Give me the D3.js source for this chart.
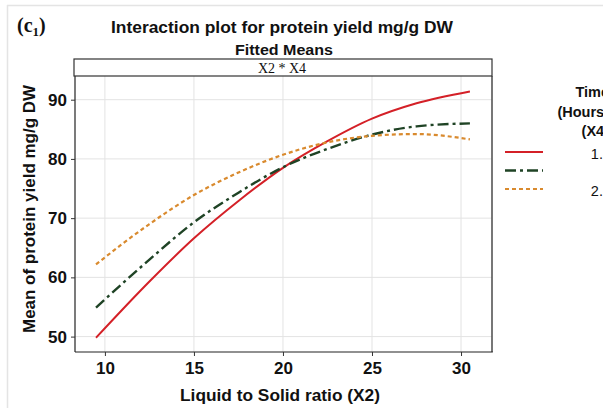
<!DOCTYPE html>
<html>
<head>
<meta charset="utf-8">
<script src="https://cdn.jsdelivr.net/npm/d3@7"></script>
<style>
  html, body { margin: 0; padding: 0; background: #fff; }
  svg { display: block; }
</style>
</head>
<body>
<svg id="chart" width="603" height="408" font-family="Liberation Sans, Arial, sans-serif"></svg>
<script>
// Fitted means of protein yield (mg/g DW) against liquid-to-solid ratio, one series per time level
const ratio = [9.5, 12.5, 15, 17.5, 20, 22.5, 25, 27.5, 30.5];
const yieldT15 = [49.8, 59.3, 66.6, 72.9, 78.5, 83.0, 86.8, 89.4, 91.4];
const yieldT20 = [54.9, 63.0, 69.3, 74.3, 78.6, 81.7, 84.1, 85.5, 86.0];
const yieldT25 = [62.2, 69.0, 73.9, 77.7, 80.7, 82.8, 83.9, 84.2, 83.3];
const seriesLabels = ["1.5", "2", "2.5"];
const xTicks = [10, 15, 20, 25, 30];
const yTicks = [50, 60, 70, 80, 90];

const SANS = "Liberation Sans, Arial, sans-serif";
const SERIF = "Liberation Serif, Times New Roman, serif";

const series = [
  { label: seriesLabels[0], values: yieldT15, color: "#d42027", dash: null, width: 2 },
  { label: seriesLabels[1], values: yieldT20, color: "#1f4325", dash: "11,4,3,4", width: 2.4 },
  { label: seriesLabels[2], values: yieldT25, color: "#d98a2e", dash: "4,3", width: 2.2 }
];

const svg = d3.select("#chart");

// light frame around the figure
svg.append("line").attr("x1", 7).attr("x2", 603).attr("y1", 5.5).attr("y2", 5.5)
  .attr("stroke", "#e4e4e4").attr("stroke-width", 1.5);
svg.append("line").attr("x1", 7.5).attr("x2", 7.5).attr("y1", 5).attr("y2", 408)
  .attr("stroke", "#e4e4e4").attr("stroke-width", 1.5);

const panel = { left: 75, right: 492, top: 76, bottom: 352 };

const x = d3.scaleLinear().domain([8.32, 31.74]).range([panel.left, panel.right]);
const y = d3.scaleLinear().domain([47.4, 94.0]).range([panel.bottom, panel.top]);

// grid
const grid = svg.append("g");
grid.selectAll(".gx").data(xTicks).join("line")
  .attr("x1", d => x(d)).attr("x2", d => x(d))
  .attr("y1", panel.top).attr("y2", panel.bottom)
  .attr("stroke", "#e3e3e3").attr("stroke-width", 1);
grid.selectAll(".gy").data(yTicks).join("line")
  .attr("x1", panel.left).attr("x2", panel.right)
  .attr("y1", d => y(d)).attr("y2", d => y(d))
  .attr("stroke", "#e3e3e3").attr("stroke-width", 1);

// series lines
const line = d3.line()
  .x((d, i) => x(ratio[i]))
  .y(d => y(d))
  .curve(d3.curveMonotoneX);

svg.append("g").selectAll("path").data(series).join("path")
  .attr("d", d => line(d.values))
  .attr("fill", "none")
  .attr("stroke", d => d.color)
  .attr("stroke-width", d => d.width)
  .attr("stroke-dasharray", d => d.dash);

// panel border
svg.append("line").attr("x1", panel.right).attr("x2", panel.right)
  .attr("y1", panel.top).attr("y2", panel.bottom)
  .attr("stroke", "#555").attr("stroke-width", 1.6);
svg.append("line").attr("x1", panel.left).attr("x2", panel.left)
  .attr("y1", panel.top).attr("y2", panel.bottom)
  .attr("stroke", "#222").attr("stroke-width", 1.2);
svg.append("line").attr("x1", panel.left).attr("x2", panel.right + 0.8)
  .attr("y1", panel.bottom).attr("y2", panel.bottom)
  .attr("stroke", "#222").attr("stroke-width", 1.2);

// axes
const xAxis = d3.axisBottom(x).tickValues(xTicks).tickSize(4).tickPadding(6);
const gx = svg.append("g").attr("transform", `translate(0,${panel.bottom})`).call(xAxis);
gx.select(".domain").remove();
gx.selectAll(".tick line").attr("stroke", "#333");
gx.selectAll(".tick text").attr("font-size", 17).attr("font-weight", "bold")
  .attr("fill", "#111").attr("font-family", SANS);

const yAxis = d3.axisLeft(y).tickValues(yTicks).tickSize(4).tickPadding(4);
const gy = svg.append("g").attr("transform", `translate(${panel.left},0)`).call(yAxis);
gy.select(".domain").remove();
gy.selectAll(".tick line").attr("stroke", "#333");
gy.selectAll(".tick text").attr("font-size", 17).attr("font-weight", "bold")
  .attr("fill", "#111").attr("font-family", SANS);

// strip
svg.append("rect").attr("x", panel.left - 1).attr("y", 59)
  .attr("width", panel.right - panel.left + 1).attr("height", panel.top - 59)
  .attr("fill", "#fff").attr("stroke", "#333").attr("stroke-width", 1.2);
svg.append("text").attr("x", 282).attr("y", 73).attr("text-anchor", "middle")
  .attr("font-family", SERIF)
  .attr("font-size", 14).attr("fill", "#111")
  .text("X2 * X4");

// titles
svg.append("text").attr("x", 284).attr("y", 55).attr("text-anchor", "middle")
  .attr("font-size", 14).attr("font-weight", "bold").attr("fill", "#111")
  .attr("textLength", 98).attr("lengthAdjust", "spacingAndGlyphs")
  .text("Fitted Means");
svg.append("text").attr("x", 282).attr("y", 33).attr("text-anchor", "middle")
  .attr("font-size", 16.5).attr("font-weight", "bold").attr("fill", "#111")
  .attr("textLength", 342).attr("lengthAdjust", "spacingAndGlyphs")
  .text("Interaction plot for protein yield mg/g DW");

const tag = svg.append("text").attr("x", 17).attr("y", 32)
  .attr("font-family", SERIF)
  .attr("font-size", 20).attr("font-weight", "bold").attr("fill", "#111");
tag.append("tspan").text("(c");
tag.append("tspan").attr("font-size", 13).attr("dy", 4).text("1");
tag.append("tspan").attr("dy", -4).text(")");

svg.append("text").attr("x", 280).attr("y", 401).attr("text-anchor", "middle")
  .attr("font-size", 16.5).attr("font-weight", "bold").attr("fill", "#111")
  .attr("textLength", 200).attr("lengthAdjust", "spacingAndGlyphs")
  .text("Liquid to Solid ratio (X2)");
svg.append("text")
  .attr("transform", `translate(35,209) rotate(-90)`)
  .attr("text-anchor", "middle")
  .attr("font-size", 16.5).attr("font-weight", "bold").attr("fill", "#111")
  .attr("textLength", 248).attr("lengthAdjust", "spacingAndGlyphs")
  .text("Mean of protein yield mg/g DW");

// legend
const legend = svg.append("g");
["Time", "(Hours)", "(X4)"].forEach((t, i) => {
  legend.append("text").attr("x", 609).attr("y", 97 + i * 19.5)
    .attr("text-anchor", "end").attr("font-size", 14.5).attr("font-weight", "bold")
    .attr("fill", "#111").text(t);
});
const keyY = d3.scalePoint().domain(seriesLabels).range([152, 189]);
legend.selectAll(".key").data(series).join("line")
  .attr("x1", 505).attr("x2", 543)
  .attr("y1", d => keyY(d.label)).attr("y2", d => keyY(d.label))
  .attr("stroke", d => d.color).attr("stroke-width", d => d.width)
  .attr("stroke-dasharray", d => d.dash);
legend.selectAll(".lab").data(series).join("text")
  .attr("x", 611).attr("y", d => keyY(d.label) + 7)
  .attr("text-anchor", "end").attr("font-size", 14.5).attr("fill", "#111")
  .text(d => d.label);
</script>
</body>
</html>
